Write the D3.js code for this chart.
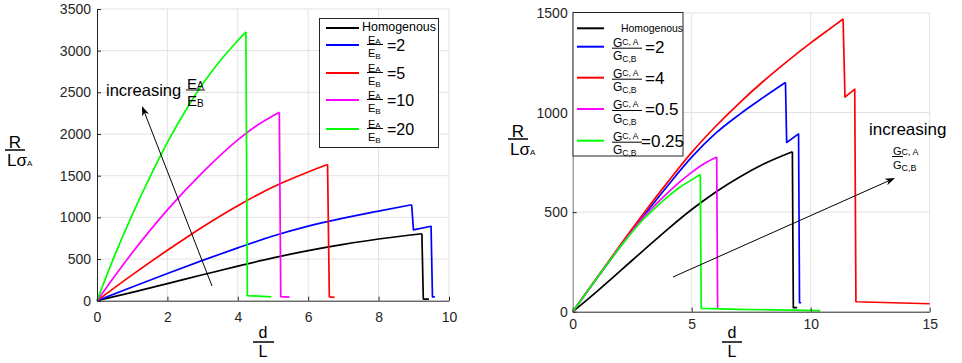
<!DOCTYPE html>
<html><head><meta charset="utf-8">
<script src="https://cdn.jsdelivr.net/npm/d3@7"></script>
<style>
body{margin:0;background:#fff;}
svg text{font-family:Arial,"Liberation Sans",sans-serif;}
</style>
</head><body>
<svg id="c" width="962" height="363"></svg>
<script>
// ---------------- DATA ----------------
// x = d/L , y = R/(L*sigma_A)
const homogenous = [[0,0],[1,100],[2,205],[3,311],[4,415],[5,513],[6,600],[7,675],[8,740],[9.23,803],[9.27,20],[9.43,20]];
const ratio2     = [[0,0],[1,165],[2,327],[3,484],[4,634],[5,776],[6,895],[7,990],[8,1075],[8.94,1151],[8.99,850],[9.49,893],[9.53,45],[9.6,45]];
// left panel: stiffness ratio E_A/E_B
const eRatio5  = [[0,0],[1,310],[2,605],[3,885],[4,1140],[5,1365],[6,1545],[6.55,1634],[6.6,45],[6.75,40]];
const eRatio10 = [[0,0],[1,575],[2,1090],[3,1540],[4,1930],[4.5,2090],[5.18,2262],[5.22,48],[5.47,44]];
const eRatio20 = [[0,0],[0.5,540],[1,1030],[1.5,1480],[2,1900],[2.5,2270],[3,2600],[3.5,2880],[4,3120],[4.23,3225],[4.27,62],[4.95,45]];
// right panel: toughness ratio G_C,A/G_C,B
const gRatio4   = [[0,0],[1,168],[2,335],[3,497],[4,652],[5,800],[6,930],[7,1048],[8,1156],[9,1256],[10,1350],[11,1438],[11.36,1470],[11.44,1078],[11.85,1118],[11.9,50],[15,40]];
const gRatio05  = [[0,0],[1,166],[2,328],[3,478],[3.5,540],[4,598],[4.5,652],[5,700],[5.5,742],[6.05,777],[6.09,15]];
const gRatio025 = [[0,0],[1,166],[2,326],[3,468],[3.5,525],[4,578],[4.5,625],[5,662],[5.36,689],[5.4,17],[7,12],[10.4,5]];

const eLabels = ["2","5","10","20"];
const gLabels = ["2","4","0.5","0.25"];
const leftXTicks  = [0,2,4,6,8,10];
const leftYTicks  = [0,500,1000,1500,2000,2500,3000,3500];
const rightXTicks = [0,5,10,15];
const rightYTicks = [0,500,1000,1500];

const colors = ["#000000","#0000ff","#ff0000","#ff00ff","#00ff00"];

// ---------------- DRAW ----------------
const svg = d3.select("#c");
const DARK = "#262626";

function panel(opt){
  const g = svg.append("g");
  const x = d3.scaleLinear(opt.xDomain, opt.xRange);
  const y = d3.scaleLinear(opt.yDomain, opt.yRange);
  // grid
  g.append("g").selectAll("line").data(opt.xTicks.filter(d=>d>0)).join("line")
    .attr("x1",d=>x(d)).attr("x2",d=>x(d)).attr("y1",y.range()[0]).attr("y2",y.range()[1])
    .attr("stroke","#e2e2e2").attr("stroke-width",1);
  g.append("g").selectAll("line").data(opt.yTicks.filter(d=>d>0)).join("line")
    .attr("y1",d=>y(d)).attr("y2",d=>y(d)).attr("x1",x.range()[0]).attr("x2",x.range()[1])
    .attr("stroke","#e2e2e2").attr("stroke-width",1);
  // series: smooth rising branch + straight post-peak branch
  const smooth = d3.line().x(d=>x(d[0])).y(d=>y(d[1])).curve(d3.curveMonotoneX);
  const straight = d3.line().x(d=>x(d[0])).y(d=>y(d[1]));
  opt.series.forEach((s,i)=>{
    let pk = 0; s.forEach((p,j)=>{ if(p[1] > s[pk][1]) pk = j; });
    const rise = s.slice(0,pk+1), tail = s.slice(pk);
    g.append("path").attr("d", smooth(rise))
      .attr("fill","none").attr("stroke",colors[i]).attr("stroke-width",1.7).attr("stroke-linejoin","round");
    g.append("path").attr("d", straight(tail))
      .attr("fill","none").attr("stroke",colors[i]).attr("stroke-width",1.7).attr("stroke-linejoin","round");
  });
  // axes
  const ax = g.append("g").attr("transform",`translate(0,${y.range()[0]})`)
    .call(d3.axisBottom(x).tickValues(opt.xTicks).tickSizeInner(-4).tickSizeOuter(0).tickPadding(opt.xPad).tickFormat(d3.format("d")));
  const ay = g.append("g").attr("transform",`translate(${x.range()[0]},0)`)
    .call(d3.axisLeft(y).tickValues(opt.yTicks).tickSizeInner(-4).tickSizeOuter(0).tickPadding(opt.yPad).tickFormat(d3.format("d")));
  [ax,ay].forEach(a=>{
    a.attr("font-family","Arial, 'Liberation Sans', sans-serif").attr("font-size",14);
    a.selectAll("text").attr("fill",DARK);
    a.selectAll("line").attr("stroke",DARK);
  });
  ax.select(".domain").attr("stroke",DARK);
  ay.select(".domain").attr("stroke",opt.yAxisColor||DARK);
  return {g,x,y};
}

panel({xDomain:[0,10], xRange:[97,449], yDomain:[0,3500], yRange:[300.7,9],
  xTicks:leftXTicks, yTicks:leftYTicks, xPad:11, yPad:6,
  series:[homogenous, ratio2, eRatio5, eRatio10, eRatio20]});
panel({xDomain:[0,15], xRange:[572.7,929.7], yDomain:[0,1500], yRange:[311.7,13],
  xTicks:rightXTicks, yTicks:rightYTicks, xPad:7, yPad:5, yAxisColor:"#777",
  series:[homogenous, ratio2, gRatio4, gRatio05, gRatio025]});

// helper: stacked fraction (numerator/denominator with subscripts)
function frac(g, x0, yb, w, top, topSub, bot, botSub, fs, ss, subUp, subDown, gap, numOff){
  const no = numOff===undefined ? 1.5 : numOff;
  g.append("line").attr("x1",x0).attr("x2",x0+w).attr("y1",yb).attr("y2",yb).attr("stroke","#000").attr("stroke-width",1);
  const t = g.append("text").attr("x",x0+1).attr("y",yb-no).attr("font-size",fs).attr("fill","#000").text(top);
  t.append("tspan").attr("font-size",ss).attr("dy",subUp).text(topSub);
  const b = g.append("text").attr("x",x0+1).attr("y",yb-no+gap).attr("font-size",fs).attr("fill","#000").text(bot);
  b.append("tspan").attr("font-size",ss).attr("dy",subDown).text(botSub);
}

// axis titles
function titles(cxR, barY, cxD, x1Bar, x2Bar){
  svg.append("text").attr("x",cxR).attr("y",barY-2).attr("text-anchor","middle").attr("font-size",17).text("R");
  svg.append("line").attr("x1",cxR-10).attr("x2",cxR+10).attr("y1",barY).attr("y2",barY).attr("stroke","#000").attr("stroke-width",1.5);
  const t = svg.append("text").attr("x",cxR-8).attr("y",barY+15.5).attr("font-size",17).text("Lσ");
  t.append("tspan").attr("font-size",8).text("A");
  svg.append("text").attr("x",cxD).attr("y",338).attr("text-anchor","middle").attr("font-size",16).text("d");
  svg.append("line").attr("x1",x1Bar).attr("x2",x2Bar).attr("y1",342).attr("y2",342).attr("stroke","#000").attr("stroke-width",1.5);
  svg.append("text").attr("x",cxD).attr("y",357).attr("text-anchor","middle").attr("font-size",16).text("L");
}
titles(15,150,263,253,274);
titles(518,139,732,722,742);

// ---------- left legend ----------
(function(){
  const g = svg.append("g");
  g.append("rect").attr("x",319.5).attr("y",18.5).attr("width",119).attr("height",129)
    .attr("fill","#fff").attr("stroke",DARK).attr("stroke-width",1);
  const rowsY = [28,45,73,100,129];
  rowsY.forEach((ry,i)=>{
    g.append("line").attr("x1",326).attr("x2",359).attr("y1",ry).attr("y2",ry).attr("stroke",colors[i]).attr("stroke-width",2);
    if(i===0){
      g.append("text").attr("x",362).attr("y",ry+2.6).attr("font-size",12.5)
        .attr("textLength",74).attr("lengthAdjust","spacingAndGlyphs").text("Homogenous");
    } else {
      frac(g,367,ry-0.5,16,"E","A","E","B",11,8,0,2,13.5,1);
      g.append("text").attr("x",387).attr("y",ry).attr("dy","0.36em").attr("font-size",16).text("="+eLabels[i-1]);
    }
  });
})();

// ---------- right legend ----------
(function(){
  const g = svg.append("g");
  g.append("rect").attr("x",573).attr("y",12.5).attr("width",110).attr("height",143.5)
    .attr("fill","#fff").attr("stroke",DARK).attr("stroke-width",1);
  const rowsY = [28.3,46.7,77.7,109,140.7];
  rowsY.forEach((ry,i)=>{
    g.append("line").attr("x1",577).attr("x2",604).attr("y1",ry).attr("y2",ry).attr("stroke",colors[i]).attr("stroke-width",2);
    if(i===0){
      g.append("text").attr("x",621).attr("y",ry).attr("dy","0.35em").attr("font-size",11)
        .attr("textLength",62).attr("lengthAdjust","spacingAndGlyphs").text("Homogenous");
    } else {
      frac(g,612,ry+1.5,30,"G","C, A","G","C,B",12,8.5,-2,2,13.5);
      g.append("text").attr("x",i===4?641:645).attr("y",ry).attr("dy","0.36em").attr("font-size",17).text("="+gLabels[i-1]);
    }
  });
})();

// ---------- annotations ----------
function arrow(x1,y1,x2,y2){
  const dx=x2-x1, dy=y2-y1, len=Math.hypot(dx,dy), ux=dx/len, uy=dy/len, px=-uy, py=ux;
  const hl=10, hw=3.6;
  svg.append("line").attr("x1",x1).attr("y1",y1).attr("x2",x2-ux*6).attr("y2",y2-uy*6).attr("stroke","#000").attr("stroke-width",1);
  const bx=x2-ux*hl, by=y2-uy*hl, ix=x2-ux*hl*0.7, iy=y2-uy*hl*0.7;
  svg.append("polygon").attr("points",[[x2,y2],[bx+px*hw,by+py*hw],[ix,iy],[bx-px*hw,by-py*hw]].map(p=>p.join(",")).join(" ")).attr("fill","#000");
}
svg.append("text").attr("x",106).attr("y",96).attr("font-size",16.5).text("increasing");
frac(svg,186,90,19,"E","A","E","B",15,10,0,1,17);
arrow(212,286,142,106);

svg.append("text").attr("x",869).attr("y",135).attr("font-size",17).text("increasing");
frac(svg,892,156.5,11,"G","C, A","G","C,B",11,9,0,2,14);
arrow(673,277,895,178);
</script>
</body></html>
